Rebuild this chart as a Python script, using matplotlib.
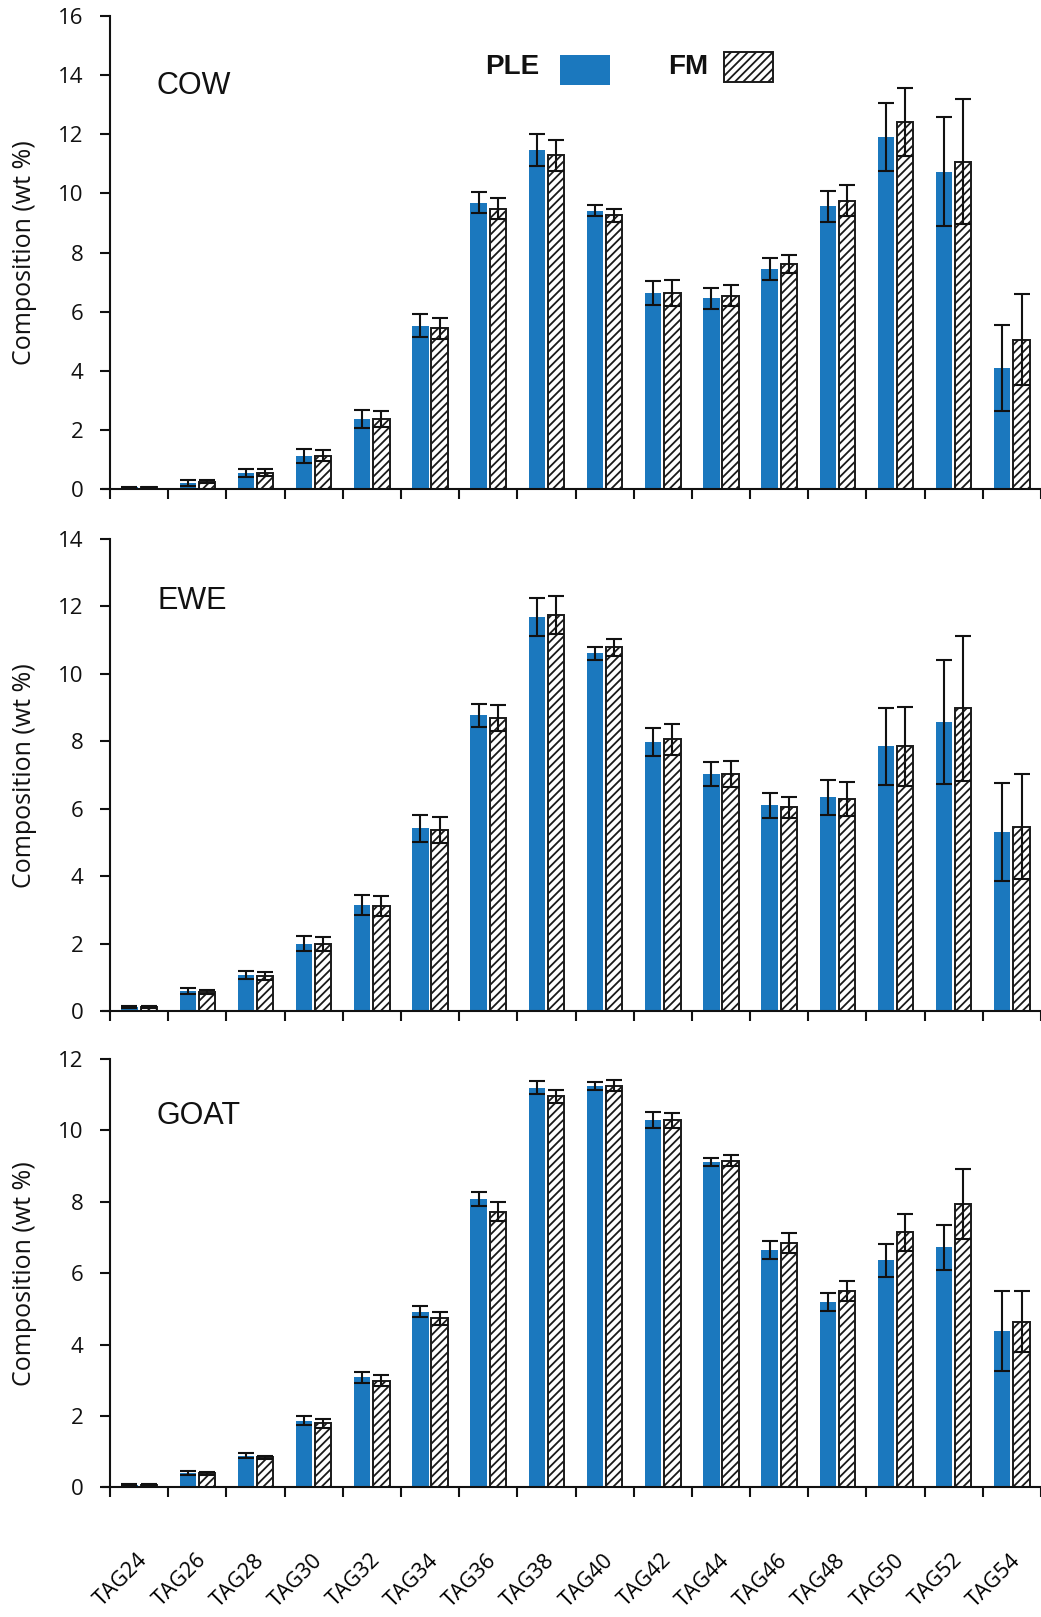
import numpy as np
import matplotlib
matplotlib.use("Agg")
import matplotlib.pyplot as plt
import matplotlib.transforms as mtransforms
from matplotlib.patches import Rectangle

categories = ["TAG24", "TAG26", "TAG28", "TAG30", "TAG32", "TAG34", "TAG36", "TAG38",
              "TAG40", "TAG42", "TAG44", "TAG46", "TAG48", "TAG50", "TAG52", "TAG54"]

cow_ple = [0.07, 0.22, 0.56, 1.13, 2.38, 5.53, 9.69, 11.47, 9.42, 6.63, 6.46, 7.44, 9.57, 11.90, 10.73, 4.10]
cow_ple_err = [0.02, 0.10, 0.13, 0.23, 0.30, 0.38, 0.36, 0.55, 0.19, 0.41, 0.36, 0.37, 0.52, 1.15, 1.84, 1.46]
cow_fm = [0.07, 0.26, 0.56, 1.13, 2.38, 5.44, 9.49, 11.29, 9.26, 6.63, 6.54, 7.62, 9.76, 12.41, 11.08, 5.06]
cow_fm_err = [0.02, 0.05, 0.11, 0.19, 0.28, 0.35, 0.35, 0.53, 0.22, 0.44, 0.36, 0.30, 0.53, 1.15, 2.12, 1.55]

ewe_ple = [0.12, 0.59, 1.08, 2.00, 3.15, 5.42, 8.78, 11.68, 10.61, 7.99, 7.03, 6.11, 6.34, 7.85, 8.57, 5.31]
ewe_ple_err = [0.03, 0.09, 0.12, 0.22, 0.31, 0.39, 0.34, 0.56, 0.20, 0.42, 0.35, 0.37, 0.53, 1.15, 1.83, 1.45]
ewe_fm = [0.12, 0.57, 1.05, 1.99, 3.12, 5.37, 8.70, 11.75, 10.79, 8.06, 7.04, 6.05, 6.30, 7.86, 8.98, 5.47]
ewe_fm_err = [0.03, 0.07, 0.12, 0.21, 0.30, 0.38, 0.38, 0.57, 0.26, 0.45, 0.38, 0.31, 0.51, 1.17, 2.14, 1.55]

goat_ple = [0.07, 0.41, 0.89, 1.87, 3.08, 4.92, 8.07, 11.20, 11.24, 10.29, 9.11, 6.65, 5.19, 6.36, 6.72, 4.38]
goat_ple_err = [0.02, 0.06, 0.06, 0.13, 0.15, 0.16, 0.20, 0.19, 0.12, 0.23, 0.12, 0.25, 0.26, 0.47, 0.63, 1.13]
goat_fm = [0.07, 0.39, 0.84, 1.79, 2.99, 4.73, 7.72, 10.96, 11.25, 10.28, 9.15, 6.85, 5.50, 7.15, 7.94, 4.64]
goat_fm_err = [0.02, 0.04, 0.05, 0.13, 0.15, 0.18, 0.27, 0.18, 0.15, 0.22, 0.15, 0.28, 0.29, 0.52, 0.98, 0.85]

panels = [
    ("COW", cow_ple, cow_ple_err, cow_fm, cow_fm_err, 16),
    ("EWE", ewe_ple, ewe_ple_err, ewe_fm, ewe_fm_err, 14),
    ("GOAT", goat_ple, goat_ple_err, goat_fm, goat_fm_err, 12),
]

BLUE = "#1B78BE"
W, H = 1041, 1617
plt.rcParams["hatch.linewidth"] = 1.3
fig = plt.figure(figsize=(W / 100, H / 100), dpi=100)

# axes boxes in pixels (top, bottom)
boxes = [(16, 489.3), (539, 1011.3), (1059, 1487.3)]
left_px = 110
right_px = 1041
label_y = [86, 601, 1116]

n = len(categories)
x = np.arange(n)
bw = 0.28
off = 0.165

for i, (name, ple, ple_e, fm, fm_e, ymax) in enumerate(panels):
    top, bot = boxes[i]
    ax = fig.add_axes([left_px / W, 1 - bot / H, (right_px - left_px) / W, (bot - top) / H])
    ax.bar(x - off, ple, width=bw, color=BLUE, edgecolor="none", zorder=2)
    ax.bar(x + off, fm, width=bw, color="white", edgecolor="#1a1a1a", linewidth=1.4,
           hatch="////", zorder=2)
    ax.errorbar(x - off, ple, yerr=ple_e, fmt="none", ecolor="#111111", elinewidth=1.5,
                capsize=5.5, capthick=1.5, zorder=3)
    ax.errorbar(x + off, fm, yerr=fm_e, fmt="none", ecolor="#111111", elinewidth=1.5,
                capsize=5.5, capthick=1.5, zorder=3)
    ax.set_ylim(0, ymax)
    ax.set_xlim(-0.5, n - 0.5 - 2 / 58.3)
    ax.set_yticks(np.arange(0, ymax + 1, 2))
    for s in ["top", "right"]:
        ax.spines[s].set_visible(False)
    for s in ["left", "bottom"]:
        ax.spines[s].set_linewidth(1.5)
        ax.spines[s].set_color("#111111")
    ax.spines["bottom"].set_bounds(-0.5 - 7 / 58.3, n)
    ax.spines["bottom"].set_zorder(4)
    ax.tick_params(axis="y", direction="out", length=7, width=1.5, pad=12,
                   labelsize=16, colors="#111111")
    bounds = np.arange(-0.5, n, 1)
    ax.set_xticks(bounds)
    ax.set_xticklabels([""] * len(bounds))
    ax.tick_params(axis="x", which="major", direction="out", length=7, width=1.5, color="#111111")
    ax.set_xticks(x, minor=True)
    if i == 2:
        ax.set_xticklabels(categories, minor=True)
        ax.tick_params(axis="x", which="minor", length=0, pad=45, labelsize=15.5)
        shift = mtransforms.ScaledTranslation(-2 / 100, 0, fig.dpi_scale_trans)
        for lab in ax.get_xticklabels(minor=True):
            lab.set_rotation(45)
            lab.set_ha("right")
            lab.set_va("top")
            lab.set_rotation_mode("anchor")
            lab.set_transform(lab.get_transform() + shift)
            lab.set_fontfamily("Open Sans")
    else:
        ax.set_xticklabels([""] * n, minor=True)
        ax.tick_params(axis="x", which="minor", length=0)
    for lab in ax.get_yticklabels():
        lab.set_fontfamily("Open Sans")
    ax.set_ylabel("Composition (wt %)", fontsize=18, family="Open Sans", color="#111111")
    ax.yaxis.set_label_coords(-(110 - 37) / (right_px - left_px), 0.5)
    fig.text(157 / W, 1 - label_y[i] / H, name, fontsize=22, family="Liberation Sans",
             va="center", ha="left", color="#111111")

# legend (drawn manually as in the reference)
fig.text(539 / W, 1 - 67 / H, "PLE", fontsize=20, fontweight="bold", family="Liberation Sans",
         ha="right", va="center", color="#111111")
fig.patches.append(Rectangle((560 / W, 1 - 85 / H), 50 / W, 30 / H, transform=fig.transFigure,
                             facecolor=BLUE, edgecolor="none", figure=fig))
fig.text(708 / W, 1 - 67 / H, "FM", fontsize=20, fontweight="bold", family="Liberation Sans",
         ha="right", va="center", color="#111111")
fig.patches.append(Rectangle((724 / W, 1 - 82 / H), 49 / W, 30 / H, transform=fig.transFigure,
                             facecolor="white", edgecolor="#1a1a1a", linewidth=1.4, hatch="////",
                             figure=fig))

fig.savefig("out.png", dpi=100)
